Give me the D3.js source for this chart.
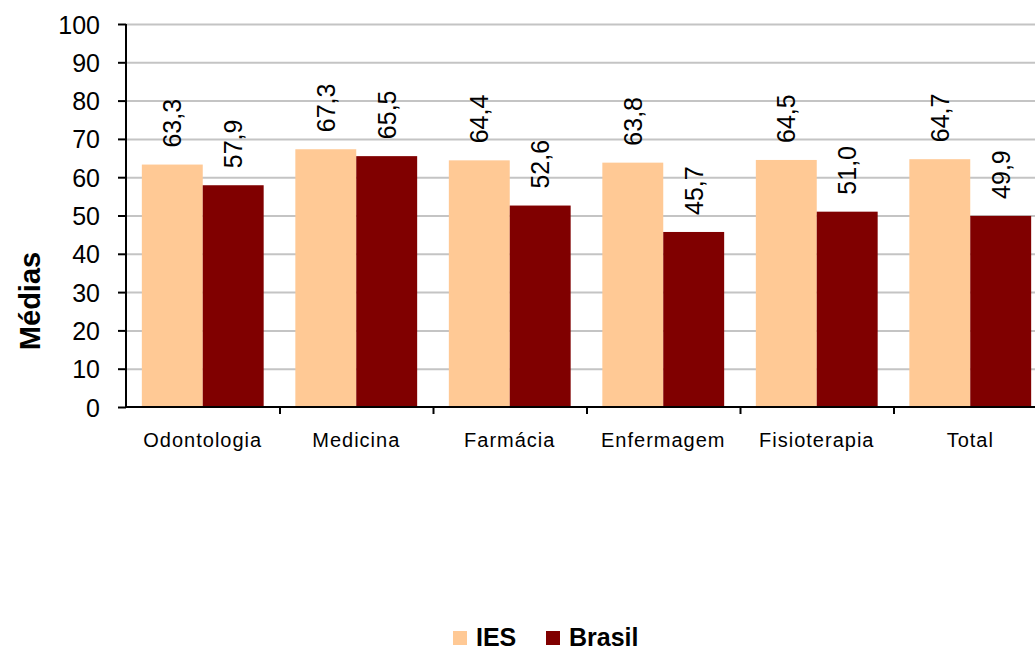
<!DOCTYPE html>
<html lang="pt">
<head>
    <meta charset="UTF-8">
    <script src="https://d3js.org/d3.v7.min.js"></script>
    <title>Médias</title>
    <style>
        body { margin: 0; background: #fff; }
        text { font-family: "Liberation Sans", Arial, sans-serif; fill: #000; }
    </style>
</head>
<body>
<script>
    var categories = ["Odontologia", "Medicina", "Farmácia", "Enfermagem", "Fisioterapia", "Total"];
    var seriesNames = ["IES", "Brasil"];
    var iesValues = [63.3, 67.3, 64.4, 63.8, 64.5, 64.7];
    var brasilValues = [57.9, 65.5, 52.6, 45.7, 51.0, 49.9];
    var yTicks = [0, 10, 20, 30, 40, 50, 60, 70, 80, 90, 100];
    var colors = ["#ffc995", "#800000"];

    var width = 1035;
    var height = 652;
    var plotLeft = 126, plotRight = 1047, plotTop = 24, plotBottom = 407;

    var rows = categories.map(function (c, i) {
        return { cat: c, values: [iesValues[i], brasilValues[i]] };
    });

    var svg = d3.select("body").append("svg")
            .attr("width", width)
            .attr("height", height);

    var y = d3.scaleLinear().domain([0, 100]).range([plotBottom, plotTop]);

    var x0 = d3.scaleBand().domain(categories).range([plotLeft, plotRight]).paddingInner(0);
    var x1 = d3.scaleBand().domain(seriesNames).range([0, x0.bandwidth()]).paddingOuter(0.26);

    // gridlines
    var grid = svg.append("g")
            .attr("transform", "translate(" + plotLeft + ",0)")
            .call(d3.axisLeft(y).tickValues(yTicks.slice(1)).tickSize(-(width - plotLeft)).tickFormat(""));
    grid.select(".domain").remove();
    grid.selectAll("line").attr("stroke", "#c4c4c4").attr("stroke-width", 2);

    // bars
    var groups = svg.selectAll(".grp")
            .data(rows)
            .enter()
            .append("g")
            .attr("transform", function (d) { return "translate(" + x0(d.cat) + ",0)"; });

    groups.selectAll("rect")
            .data(function (d) { return d.values.map(function (v, j) { return { s: seriesNames[j], v: v, j: j }; }); })
            .enter()
            .append("rect")
            .attr("x", function (d) { return x1(d.s); })
            .attr("y", function (d) { return y(d.v); })
            .attr("width", x1.bandwidth())
            .attr("height", function (d) { return plotBottom - y(d.v); })
            .attr("fill", function (d) { return colors[d.j]; });

    // value labels (rotated)
    groups.selectAll(".lbl")
            .data(function (d) { return d.values.map(function (v, j) { return { s: seriesNames[j], v: v }; }); })
            .enter()
            .append("text")
            .attr("transform", function (d) {
                var cx = x1(d.s) + x1.bandwidth() / 2;
                return "translate(" + cx + "," + (y(d.v) - 17) + ") rotate(-90)";
            })
            .attr("dy", "0.36em")
            .style("font-size", "25px")
            .text(function (d) { return d.v.toFixed(1).replace(".", ","); });

    // y axis
    var yAxis = svg.append("g")
            .attr("transform", "translate(" + plotLeft + ",0)")
            .call(d3.axisLeft(y).tickValues(yTicks).tickSize(8).tickPadding(18));
    yAxis.selectAll("line, path").attr("stroke", "#000").attr("stroke-width", 2);
    yAxis.select(".domain").attr("d", "M0," + plotTop + "V" + plotBottom);
    yAxis.selectAll("text").style("font-size", "25px").attr("dy", "0.36em");

    // x axis line + boundary ticks
    var xi = d3.scaleLinear().domain([0, categories.length]).range([plotLeft, plotRight]);
    var xAxis = svg.append("g")
            .attr("transform", "translate(0," + plotBottom + ")")
            .call(d3.axisBottom(xi).tickValues(d3.range(1, categories.length)).tickSize(7).tickFormat(""));
    xAxis.selectAll("line, path").attr("stroke", "#000").attr("stroke-width", 2);
    xAxis.select(".domain").attr("d", "M" + plotLeft + ",0H" + width);

    // category labels
    var xLab = svg.append("g")
            .attr("transform", "translate(0," + plotBottom + ")")
            .call(d3.axisBottom(x0).tickSize(0).tickPadding(26));
    xLab.select(".domain").remove();
    xLab.selectAll("text").style("font-size", "20px").style("letter-spacing", "1px");

    // y title
    svg.append("text")
            .attr("transform", "translate(40,301) rotate(-90)")
            .attr("text-anchor", "middle")
            .style("font-size", "29px")
            .style("font-weight", "bold")
            .text("Médias");

    // legend
    var legendX = [453, 546];
    var legend = svg.selectAll(".leg")
            .data(seriesNames)
            .enter()
            .append("g")
            .attr("transform", function (d, i) { return "translate(" + legendX[i] + ",631)"; });
    legend.append("rect")
            .attr("width", 14)
            .attr("height", 14)
            .attr("fill", function (d, i) { return colors[i]; });
    legend.append("text")
            .attr("x", 23)
            .attr("y", 15)
            .style("font-size", "25px")
            .style("font-weight", "bold")
            .text(function (d) { return d; });
</script>
</body>
</html>
